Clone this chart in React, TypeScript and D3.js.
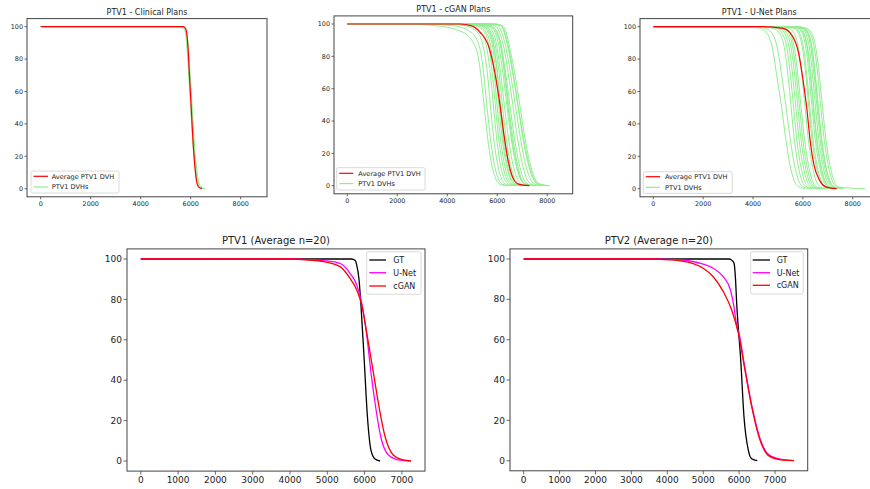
import React from 'react';
import * as d3 from 'd3';

// Volume levels (%) at which the dose (cGy) of each top-row DVH is read
const VOL_LEVELS = [100, 99, 95, 85, 70, 50, 30, 15, 5, 1, 0];

const CLINICAL_AVG = [5700, 5790, 5850, 5900, 5950, 6020, 6090, 6160, 6230, 6320, 6450];
const CLINICAL_DVHS = [
  [5600, 5750, 5830, 5890, 5950, 6030, 6110, 6190, 6280, 6400, 6600],
  [5650, 5790, 5860, 5920, 5980, 6060, 6140, 6220, 6310, 6420, 6550],
  [5550, 5720, 5800, 5860, 5920, 6000, 6080, 6160, 6250, 6360, 6500],
];

const CGAN_AVG = [4500, 4950, 5300, 5680, 5900, 6107, 6280, 6440, 6620, 6850, 7280];
const CGAN_DVHS = [
  [2200, 3500, 4600, 5150, 5330, 5470, 5610, 5750, 5920, 6100, 6350],
  [2800, 4200, 4950, 5300, 5450, 5580, 5720, 5860, 6020, 6200, 6450],
  [3800, 4700, 5200, 5450, 5600, 5720, 5850, 5990, 6150, 6330, 6600],
  [4200, 4900, 5350, 5580, 5720, 5840, 5970, 6100, 6260, 6450, 6700],
  [4500, 5100, 5480, 5680, 5800, 5920, 6050, 6190, 6350, 6550, 6800],
  [4600, 5200, 5550, 5750, 5870, 5990, 6120, 6260, 6420, 6620, 6900],
  [4700, 5300, 5620, 5820, 5940, 6060, 6190, 6330, 6500, 6700, 7000],
  [4800, 5350, 5680, 5870, 6000, 6130, 6270, 6420, 6600, 6800, 7100],
  [4900, 5450, 5750, 5940, 6070, 6200, 6350, 6500, 6680, 6880, 7200],
  [5000, 5500, 5820, 6000, 6130, 6280, 6440, 6600, 6780, 6980, 7300],
  [5100, 5600, 5900, 6080, 6220, 6380, 6550, 6720, 6900, 7100, 7400],
  [5200, 5700, 6000, 6180, 6330, 6500, 6680, 6850, 7030, 7230, 7550],
  [5600, 5900, 6080, 6270, 6430, 6620, 6800, 6980, 7160, 7370, 7700],
  [5700, 6000, 6170, 6350, 6520, 6720, 6920, 7100, 7300, 7500, 7850],
  [5800, 6120, 6270, 6430, 6610, 6820, 7020, 7210, 7410, 7630, 8000],
  [5900, 6200, 6350, 6500, 6690, 6900, 7100, 7290, 7490, 7720, 8100],
  [5850, 6150, 6300, 6460, 6630, 6830, 7040, 7240, 7440, 7660, 8050],
  [5350, 5750, 5980, 6150, 6300, 6450, 6620, 6780, 6950, 7150, 7500],
  [4900, 5400, 5700, 5880, 6000, 6110, 6230, 6370, 6540, 6740, 7050],
  [5150, 5650, 5950, 6150, 6280, 6420, 6580, 6740, 6920, 7120, 7450],
];

const UNET_AVG = [4400, 5200, 5550, 5810, 5980, 6155, 6290, 6440, 6680, 6950, 7350];
const UNET_DVHS = [
  [3800, 4300, 4600, 4800, 4950, 5150, 5320, 5480, 5650, 5850, 6100],
  [4000, 4500, 4800, 5000, 5150, 5330, 5500, 5660, 5830, 6030, 6300],
  [4300, 4800, 5100, 5280, 5400, 5530, 5660, 5800, 5960, 6150, 6400],
  [4500, 4950, 5200, 5380, 5500, 5630, 5760, 5900, 6060, 6250, 6500],
  [4600, 5050, 5300, 5470, 5590, 5720, 5850, 6000, 6160, 6350, 6600],
  [4700, 5150, 5380, 5550, 5670, 5800, 5930, 6080, 6240, 6430, 6700],
  [4800, 5250, 5460, 5620, 5740, 5870, 6000, 6150, 6310, 6500, 6800],
  [4900, 5300, 5520, 5680, 5800, 5930, 6070, 6220, 6380, 6570, 6900],
  [5300, 5700, 5900, 6050, 6160, 6280, 6410, 6560, 6730, 6920, 7200],
  [5400, 5800, 6000, 6140, 6250, 6370, 6500, 6650, 6820, 7010, 7300],
  [5500, 5880, 6070, 6210, 6320, 6440, 6570, 6720, 6890, 7080, 7400],
  [5550, 5950, 6140, 6280, 6390, 6510, 6640, 6790, 6960, 7150, 7450],
  [5600, 6000, 6200, 6340, 6450, 6570, 6700, 6850, 7020, 7210, 7500],
  [5650, 6050, 6250, 6390, 6500, 6620, 6750, 6900, 7070, 7260, 7550],
  [5700, 6100, 6320, 6480, 6600, 6720, 6860, 7010, 7180, 7370, 7650],
  [5750, 6150, 6380, 6540, 6660, 6790, 6930, 7080, 7250, 7440, 8500],
  [5600, 6020, 6230, 6380, 6490, 6620, 6760, 6910, 7080, 7280, 7550],
  [5200, 5650, 5850, 6000, 6120, 6240, 6370, 6520, 6690, 6880, 7150],
  [5000, 5450, 5680, 5840, 5960, 6090, 6220, 6370, 6530, 6720, 7000],
  [5450, 5850, 6050, 6190, 6300, 6420, 6550, 6700, 6870, 7060, 7350],
];

// Bottom row: [dose, volume] points
const PTV1_GT: [number, number][] = [[0, 100], [5650, 100], [5750, 99.3], [5790, 97], [5850, 90], [5900, 78], [5990, 50], [6076, 22], [6175, 5], [6280, 1], [6416, 0]];
const PTV1_UNET: [number, number][] = [[0, 100], [4000, 100], [4500, 99.7], [4900, 99.2], [5340, 97.8], [5610, 92.9], [5790, 87.1], [5925, 78], [6060, 62], [6174, 43.4], [6282, 28.6], [6434, 12], [6640, 3], [6950, 0.4], [7240, 0]];
const PTV1_CGAN: [number, number][] = [[0, 100], [4000, 100], [4500, 99.5], [4900, 98.7], [5340, 96.2], [5610, 90.4], [5790, 84.7], [5925, 77.2], [6060, 63.2], [6240, 43.4], [6370, 28.6], [6550, 12], [6770, 3], [7040, 0.5], [7240, 0]];

const PTV2_GT: [number, number][] = [[0, 100], [5740, 100], [5800, 99.3], [5860, 97.9], [5900, 90], [5933, 78], [6045, 50], [6136, 21.8], [6256, 5.3], [6350, 1], [6507, 0]];
const PTV2_UNET: [number, number][] = [[0, 100], [3500, 100], [4075, 99.8], [4630, 99], [5000, 97.5], [5280, 95.4], [5560, 91.2], [5760, 84.6], [5850, 77], [5933, 67], [6000, 63], [6164, 45.5], [6351, 27.5], [6582, 11], [6861, 2.5], [7231, 0.5], [7529, 0]];
const PTV2_CGAN: [number, number][] = [[0, 100], [3500, 100], [4075, 99.6], [4630, 98.2], [5000, 95.4], [5280, 91.2], [5560, 83.8], [5794, 74.7], [5978, 63.2], [6164, 45], [6351, 26.8], [6582, 10.3], [6861, 2], [7231, 0.3], [7529, 0]];

const TOP_X_TICKS = [0, 2000, 4000, 6000, 8000];
const BOTTOM_X_TICKS = [0, 1000, 2000, 3000, 4000, 5000, 6000, 7000];
const Y_TICKS = [0, 20, 40, 60, 80, 100];

const RED = '#ff0000';
const GREEN = '#90ee90';
const MAGENTA = '#ff00ff';
const BLACK = '#000000';
const FONT = '"DejaVu Sans", Verdana, sans-serif';

const levelsToPoints = (doses: number[]): [number, number][] =>
  [[0, 100] as [number, number]].concat(doses.map((d, i) => [d, VOL_LEVELS[i]] as [number, number]));

type Series = { points: [number, number][]; color: string; width: number };
type LegendItem = { label: string; color: string; width: number };

interface PanelProps {
  box: { x0: number; x1: number; y0: number; y1: number };
  xDomain: [number, number];
  xTicks: number[];
  title: string;
  titleY: number;
  series: Series[];
  legendBox: { x: number; y: number; w: number; h: number };
  legendItems: LegendItem[];
  legendRowY: number[];
  legendLine: [number, number];
  legendTextX: number;
  tickFont: number;
  titleFont: number;
  legendFont: number;
  tickLen: number;
  xLabelY: number;
}

function Panel(p: PanelProps) {
  const x = d3.scaleLinear().domain(p.xDomain).range([p.box.x0, p.box.x1]);
  const y = d3.scaleLinear().domain([-5, 105]).range([p.box.y1, p.box.y0]);
  const line = d3
    .line<[number, number]>()
    .x((d) => x(d[0]))
    .y((d) => y(d[1]))
    .curve(d3.curveMonotoneX);
  const { x0, x1, y0, y1 } = p.box;
  return (
    <g>
      <text x={(x0 + x1) / 2} y={p.titleY} textAnchor="middle" fontSize={p.titleFont} fill="#222" fontFamily={FONT}>
        {p.title}
      </text>
      {p.series.map((s, i) => (
        <path key={i} d={line(s.points) || ''} fill="none" stroke={s.color} strokeWidth={s.width} strokeLinejoin="round" />
      ))}
      <rect x={x0} y={y0} width={x1 - x0} height={y1 - y0} fill="none" stroke="#444" strokeWidth={1} />
      {p.xTicks.map((t) => (
        <g key={'x' + t}>
          <line x1={x(t)} x2={x(t)} y1={y1} y2={y1 + p.tickLen} stroke="#444" strokeWidth={0.8} />
          <text x={x(t)} y={p.xLabelY} textAnchor="middle" fontSize={p.tickFont} fill="#222" fontFamily={FONT} dy="0.35em">
            {t}
          </text>
        </g>
      ))}
      {Y_TICKS.map((t) => (
        <g key={'y' + t}>
          <line x1={x0 - p.tickLen} x2={x0} y1={y(t)} y2={y(t)} stroke="#444" strokeWidth={0.8} />
          <text x={x0 - p.tickLen - 1.5} y={y(t)} textAnchor="end" fontSize={p.tickFont} fill="#222" fontFamily={FONT} dy="0.35em">
            {t}
          </text>
        </g>
      ))}
      <rect
        x={p.legendBox.x}
        y={p.legendBox.y}
        width={p.legendBox.w}
        height={p.legendBox.h}
        rx={1.5}
        fill="#fff"
        fillOpacity={0.8}
        stroke="#d0d0d0"
        strokeWidth={0.8}
      />
      {p.legendItems.map((it, i) => (
        <g key={'l' + i}>
          <line
            x1={p.legendLine[0]}
            x2={p.legendLine[1]}
            y1={p.legendRowY[i]}
            y2={p.legendRowY[i]}
            stroke={it.color}
            strokeWidth={it.width}
          />
          <text x={p.legendTextX} y={p.legendRowY[i]} fontSize={p.legendFont} fill="#222" fontFamily={FONT} dy="0.35em">
            {it.label}
          </text>
        </g>
      ))}
    </g>
  );
}

function topSeries(avg: number[], dvhs: number[][]): Series[] {
  return [
    ...dvhs.map((d) => ({ points: levelsToPoints(d), color: GREEN, width: 1 })),
    { points: levelsToPoints(avg), color: RED, width: 1.2 },
  ];
}

const topLegend: LegendItem[] = [
  { label: 'Average PTV1 DVH', color: RED, width: 1.2 },
  { label: 'PTV1 DVHs', color: GREEN, width: 1.2 },
];
const bottomLegend: LegendItem[] = [
  { label: 'GT', color: BLACK, width: 1.3 },
  { label: 'U-Net', color: MAGENTA, width: 1.3 },
  { label: 'cGAN', color: RED, width: 1.3 },
];

export default function App() {
  const topCommon = { tickFont: 6.4, titleFont: 8, legendFont: 6.6, tickLen: 2.5, xTicks: TOP_X_TICKS };
  const botCommon = { tickFont: 9, titleFont: 10, legendFont: 8, tickLen: 3.5, xTicks: BOTTOM_X_TICKS };
  return (
    <div style={{ position: 'absolute', left: 0, top: 0, width: 870, height: 489, background: '#fff' }}>
      <svg width={870} height={489} style={{ display: 'block' }}>
        <rect x={0} y={0} width={870} height={489} fill="#fff" />
        <Panel
          {...topCommon}
          box={{ x0: 27, x1: 267, y0: 18.6, y1: 196.8 }}
          xDomain={[-548, 9052]}
          title="PTV1 - Clinical Plans"
          titleY={15}
          series={topSeries(CLINICAL_AVG, CLINICAL_DVHS)}
          legendBox={{ x: 31, y: 171, w: 88, h: 22 }}
          legendItems={topLegend}
          legendRowY={[176.3, 187]}
          legendLine={[33.5, 48]}
          legendTextX={51.7}
          xLabelY={204}
        />
        <Panel
          {...topCommon}
          box={{ x0: 334, x1: 572.7, y0: 15.9, y1: 193.8 }}
          xDomain={[-532, 9016]}
          title="PTV1 - cGAN Plans"
          titleY={12}
          series={topSeries(CGAN_AVG, CGAN_DVHS)}
          legendBox={{ x: 336.7, y: 167.7, w: 88.3, h: 22.3 }}
          legendItems={topLegend}
          legendRowY={[173.3, 183.6]}
          legendLine={[339.3, 353.3]}
          legendTextX={358.3}
          xLabelY={201}
        />
        <Panel
          {...topCommon}
          box={{ x0: 640, x1: 878.5, y0: 18.6, y1: 196.8 }}
          xDomain={[-534, 9034]}
          title="PTV1 - U-Net Plans"
          titleY={15}
          series={topSeries(UNET_AVG, UNET_DVHS)}
          legendBox={{ x: 643.3, y: 171.7, w: 89, h: 21.7 }}
          legendItems={topLegend}
          legendRowY={[176.7, 187.3]}
          legendLine={[645.7, 660]}
          legendTextX={665}
          xLabelY={203.5}
        />
        <Panel
          {...botCommon}
          box={{ x0: 127, x1: 425, y0: 248.9, y1: 471.1 }}
          xDomain={[-370, 7620]}
          title="PTV1 (Average n=20)"
          titleY={243.5}
          series={[
            { points: PTV1_GT, color: BLACK, width: 1.3 },
            { points: PTV1_UNET, color: MAGENTA, width: 1.3 },
            { points: PTV1_CGAN, color: RED, width: 1.3 },
          ]}
          legendBox={{ x: 366.7, y: 251.7, w: 54.3, h: 42.6 }}
          legendItems={bottomLegend}
          legendRowY={[260, 272.7, 286]}
          legendLine={[369.3, 386]}
          legendTextX={393.3}
          xLabelY={479.5}
        />
        <Panel
          {...botCommon}
          box={{ x0: 510, x1: 807.7, y0: 248.9, y1: 470.8 }}
          xDomain={[-382, 7911]}
          title="PTV2 (Average n=20)"
          titleY={243.5}
          series={[
            { points: PTV2_GT, color: BLACK, width: 1.3 },
            { points: PTV2_UNET, color: MAGENTA, width: 1.3 },
            { points: PTV2_CGAN, color: RED, width: 1.3 },
          ]}
          legendBox={{ x: 750.7, y: 251.7, w: 52.6, h: 42.3 }}
          legendItems={bottomLegend}
          legendRowY={[260, 272.7, 285.3]}
          legendLine={[752.7, 770]}
          legendTextX={776.7}
          xLabelY={479.5}
        />
      </svg>
    </div>
  );
}
